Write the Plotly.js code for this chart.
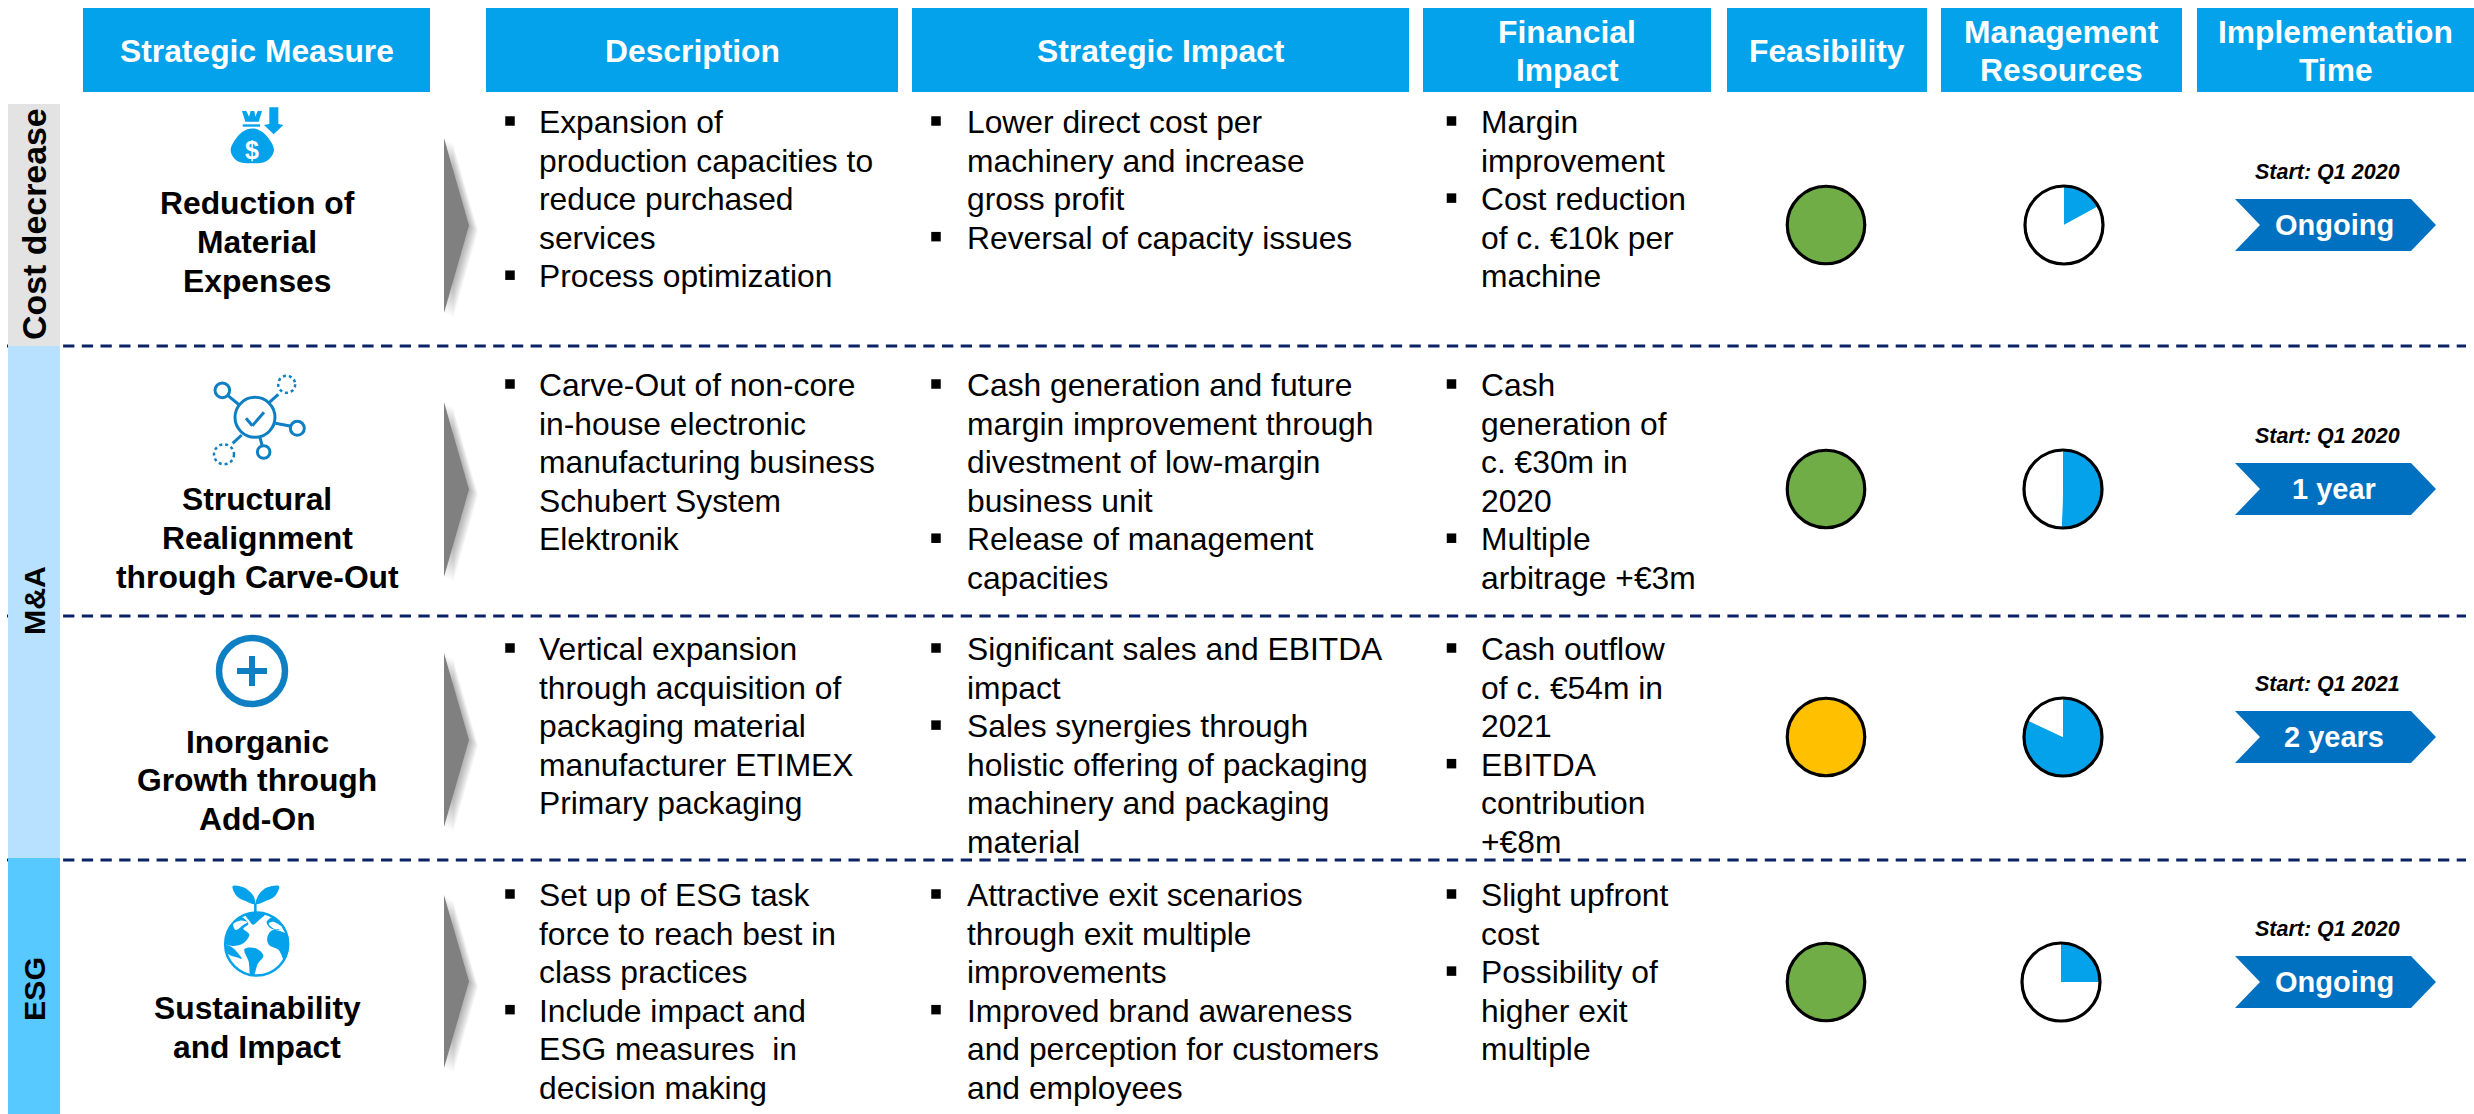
<!DOCTYPE html>
<html>
<head>
<meta charset="utf-8">
<script src="https://cdn.plot.ly/plotly-3.0.1.min.js"></script>
<style>html,body{margin:0;padding:0;background:#fff}#c{width:2474px;height:1114px}</style>
</head>
<body>
<div id="c"></div>
<script>
const headers = [["Strategic Measure"],["Description"],["Strategic Impact"],["Financial","Impact"],["Feasibility"],["Management","Resources"],["Implementation","Time"]];
const categories = ["Cost decrease","M&A","ESG"];
const measures = [["Reduction of","Material","Expenses"],["Structural","Realignment","through Carve-Out"],["Inorganic","Growth through","Add-On"],["Sustainability","and Impact"]];
const descriptions = [
 [["Expansion of","production capacities to","reduce purchased","services"],["Process optimization"]],
 [["Carve-Out of non-core","in-house electronic","manufacturing business","Schubert System","Elektronik"]],
 [["Vertical expansion","through acquisition of","packaging material","manufacturer ETIMEX","Primary packaging"]],
 [["Set up of ESG task","force to reach best in","class practices"],["Include impact and","ESG measures\u00a0 in","decision making"]]
];
const strategicImpacts = [
 [["Lower direct cost per","machinery and increase","gross profit"],["Reversal of capacity issues"]],
 [["Cash generation and future","margin improvement through","divestment of low-margin","business unit"],["Release of management","capacities"]],
 [["Significant sales and EBITDA","impact"],["Sales synergies through","holistic offering of packaging","machinery and packaging","material"]],
 [["Attractive exit scenarios","through exit multiple","improvements"],["Improved brand awareness","and perception for customers","and employees"]]
];
const financialImpacts = [
 [["Margin","improvement"],["Cost reduction","of c. €10k per","machine"]],
 [["Cash","generation of","c. €30m in","2020"],["Multiple","arbitrage +€3m"]],
 [["Cash outflow","of c. €54m in","2021"],["EBITDA","contribution","+€8m"]],
 [["Slight upfront","cost"],["Possibility of","higher exit","multiple"]]
];
const feasibilityColors = ["#70AD47","#70AD47","#FFC000","#70AD47"];
const resourceShares = [0.17,0.505,0.82,0.25];
const startDates = ["Start: Q1 2020","Start: Q1 2020","Start: Q1 2021","Start: Q1 2020"];
const durations = ["Ongoing","1 year","2 years","Ongoing"];

const W=2474,H=1114,FONT='"Liberation Sans", Arial, sans-serif';
const BLUE='#03A2EA',ICON='#0F7FC4',DASH='#0B2265';
const headerX=[[83,430],[486,898],[912,1409],[1423,1711],[1727,1927],[1941,2182],[2197,2474]];
const rowY=[225,489,737,982];
const startY=[122,385,649,895],LH=38.55;
const shapes=[],ann=[];
const poly=pts=>'M'+pts.map(p=>p[0]+','+p[1]).join('L')+'Z';
const smooth=pts=>{
  let d='M'+pts[0][0]+','+pts[0][1];
  const n=pts.length;
  for(let i=0;i<n;i++){
    const p0=pts[(i-1+n)%n],p1=pts[i],p2=pts[(i+1)%n],p3=pts[(i+2)%n];
    d+='C'+(p1[0]+(p2[0]-p0[0])/6)+','+(p1[1]+(p2[1]-p0[1])/6)+' '+(p2[0]-(p3[0]-p1[0])/6)+','+(p2[1]-(p3[1]-p1[1])/6)+' '+p2[0]+','+p2[1];
  }
  return d+'Z';
};
const rect=(x0,y0,x1,y1,c)=>shapes.push({type:'rect',xref:'x',yref:'y',x0,y0,x1,y1,fillcolor:c,line:{width:0},layer:'below'});
const fill=(path,c,layer)=>shapes.push({type:'path',xref:'x',yref:'y',path,fillcolor:c,line:{width:0},layer:layer||'below'});
const circ=(cx,cy,r,lw,c,f,dash,layer)=>shapes.push({type:'circle',xref:'x',yref:'y',x0:cx-r,x1:cx+r,y0:cy-r,y1:cy+r,fillcolor:f||'rgba(0,0,0,0)',line:{width:lw,color:c,dash:dash||'solid'},layer:layer||'below'});
const seg=(x0,y0,x1,y1,lw,c)=>shapes.push({type:'line',xref:'x',yref:'y',x0,y0,x1,y1,line:{width:lw,color:c},layer:'below'});
const txt=(x,y,text,size,color,xa,angle)=>ann.push({xref:'x',yref:'y',x,y,text,showarrow:false,xanchor:xa||'center',yanchor:'middle',textangle:angle||0,borderpad:0,font:{family:FONT,size,color:color||'#000'}});

[346,616,860].forEach(y=>shapes.push({type:'line',xref:'x',yref:'y',x0:7,x1:2466,y0:y,y1:y,layer:'below',line:{width:3,color:DASH,dash:'11.3px,7.4px'}}));
rect(8,104,60,346,'#E3E3E3');rect(8,346,60,858,'#B8E0FF');rect(8,858,60,1114,'#57C9FF');
txt(34,224,'<b>'+categories[0]+'</b>',33.9,'#000','center',-90);
txt(34,601,'<b>'+categories[1].replace('&','&amp;')+'</b>',30.3,'#000','center',-90);
txt(34,989,'<b>'+categories[2]+'</b>',30.3,'#000','center',-90);
headers.forEach((h,i)=>{
  const [a,b]=headerX[i];
  rect(a,8,b,92,BLUE);
  const mid=(a+b)/2;
  if(h.length==1)txt(mid,51,'<b>'+h[0]+'</b>',31.8,'#fff');
  else{txt(mid,32,'<b>'+h[0]+'</b>',31.8,'#fff');txt(mid,70,'<b>'+h[1]+'</b>',31.8,'#fff');}
});
const measureY=[[203,242,281],[499,538,577],[742,780,819],[1008,1047]];
measures.forEach((m,r)=>m.forEach((t,k)=>txt(257,measureY[r][k],'<b>'+t+'</b>',31.8)));
const arrowY=[[138,313],[402,577],[653,827],[895,1068]];
arrowY.forEach(([a,b])=>{
  const mx=(a+b)/2;
  for(let i=9;i>=1;i--){
    const dx=i*1.0,dy=i*0.6;
    fill(poly([[444+dx,a+dy],[469+dx,mx+dy],[444+dx,b+dy]]),'rgba(0,0,0,0.035)');
  }
  fill(poly([[444,a],[469,mx],[444,b]]),'#808080');
});
const bulletX=[],bulletY=[];
function column(cells,xb,xt){
  cells.forEach((items,r)=>{
    let n=0;
    items.forEach(lines=>{
      bulletX.push(xb);bulletY.push(startY[r]+n*LH-1);
      lines.forEach(l=>{txt(xt,startY[r]+n*LH,l,31.8,'#000','left');n++;});
    });
  });
}
column(descriptions,510,537.5);
column(strategicImpacts,936,965.5);
column(financialImpacts,1451.5,1479.5);
rowY.forEach((y,r)=>{
  fill(poly([[2235,y-26],[2411,y-26],[2436,y],[2411,y+26],[2235,y+26],[2260,y]]),'#0070C0');
  txt(2334,y,'<b>'+durations[r]+'</b>',29,'#fff');
  txt(2327.5,y-53,'<b><i>'+startDates[r]+'</i></b>',21.5);
});
const bag=(x,y)=>[210+x/3,100+y/3];
fill(smooth([[112,88],[142,88],[172,110],[192,150],[170,183],[127,190],[82,183],[62,150],[82,110]].map(p=>bag(...p))),BLUE);
fill(poly([[96,33],[109,33],[117,50],[122,33],[133,33],[136,50],[143,33],[156,33],[146,65],[106,65]].map(p=>bag(...p))),BLUE);
fill(poly([[98,73],[150,73],[150,80],[98,80]].map(p=>bag(...p))),BLUE);
fill(poly([[178,22],[205,22],[205,72],[220,75],[191,103],[162,75],[178,72]].map(p=>bag(...p))),BLUE);
txt(252,150,'<b>$</b>',25,'#fff');
const nx=x=>200+x/3,ny=y=>365+y/3;
circ(nx(165),ny(157),20,3,ICON);
circ(nx(67),ny(76),7.3,3,ICON);
circ(nx(292),ny(190),7,3,ICON);
circ(nx(191),ny(261),6.3,3,ICON);
circ(nx(260),ny(58),8.5,2.5,ICON,null,'3px,3px');
circ(nx(72),ny(268),10,2.5,ICON,null,'3px,3px');
[[84,92,118,120],[208,112,235,88],[226,175,270,183],[180,218,186,240],[125,210,98,235],[138,160,157,182],[157,182,192,142]].forEach(s=>seg(nx(s[0]),ny(s[1]),nx(s[2]),ny(s[3]),3,ICON));
circ(252,671,33,6.5,ICON);
seg(237,671,267,671,6,ICON);seg(252,656,252,686,6,ICON);
const g=(x,y)=>[210+x/3,880+y/3];
circ(g(140,192)[0],g(140,192)[1],31.5,2.5,BLUE);
fill(smooth([[135,72],[108,64],[80,48],[68,18],[100,22],[128,44]].map(p=>g(...p))),BLUE);
fill(smooth([[138,72],[165,64],[195,48],[207,18],[172,22],[146,44]].map(p=>g(...p))),BLUE);
seg(g(136,70)[0],g(136,70)[1],g(136,98)[0],g(136,98)[1],2.5,BLUE);
fill(smooth([[108,104],[140,96],[165,102],[150,118],[130,134],[118,122]].map(p=>g(...p))),BLUE);
fill(smooth([[95,112],[70,128],[50,160],[46,190],[70,198],[100,190],[118,164],[100,146],[115,132]].map(p=>g(...p))),BLUE);
fill(smooth([[70,132],[90,122],[112,126],[100,135],[78,150]].map(p=>g(...p))),'#fff');
fill(smooth([[48,196],[70,205],[95,235],[80,232],[55,222]].map(p=>g(...p))),BLUE);
fill(smooth([[103,208],[135,204],[160,226],[143,252],[132,286],[120,282],[116,245]].map(p=>g(...p))),BLUE);
fill(smooth([[190,150],[232,165],[232,205],[222,238],[206,210],[178,196],[172,172]].map(p=>g(...p))),BLUE);
fill(smooth([[170,126],[190,112],[212,134],[205,150],[182,145]].map(p=>g(...p))),BLUE);
fill(smooth([[176,132],[192,126],[216,142],[196,148]].map(p=>g(...p))),'#fff');
const ballX=[2064,2063,2063,2061];
rowY.forEach((y,r)=>circ(ballX[r],y,39,3.2,'#000',null,null,'above'));

const traces=[
 {type:'scatter',mode:'markers',x:rowY.map(()=>1826),y:rowY,marker:{size:77.5,color:feasibilityColors,line:{width:3.2,color:'#000'}},hoverinfo:'skip'},
 {type:'scatter',mode:'markers',x:bulletX,y:bulletY,marker:{size:9.5,symbol:'square',color:'#000',line:{width:0}},hoverinfo:'skip'}
];
rowY.forEach((y,r)=>{
  const c=ballX[r],R=39;
  traces.push({type:'pie',values:[resourceShares[r],1-resourceShares[r]],sort:false,direction:'clockwise',rotation:0,textinfo:'none',hoverinfo:'skip',
    marker:{colors:[BLUE,'#fff'],line:{width:0}},
    domain:{x:[(c-R)/W,(c+R)/W],y:[1-(y+R)/H,1-(y-R)/H]}});
});
Plotly.newPlot('c',traces,{
  width:W,height:H,margin:{l:0,r:0,t:0,b:0,pad:0},showlegend:false,paper_bgcolor:'#fff',plot_bgcolor:'#fff',
  xaxis:{range:[0,W],visible:false,fixedrange:true},
  yaxis:{range:[H,0],visible:false,fixedrange:true},
  shapes,annotations:ann
},{displayModeBar:false,staticPlot:true});
</script>
</body>
</html>
